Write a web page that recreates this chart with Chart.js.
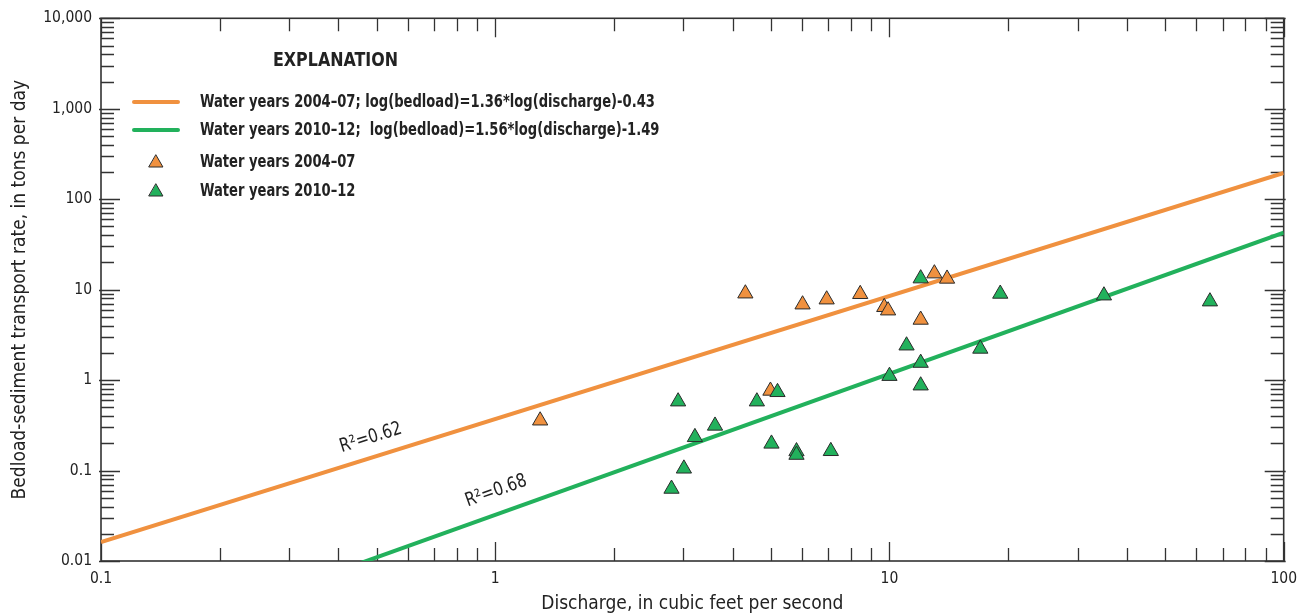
<!DOCTYPE html>
<html>
<head>
<meta charset="utf-8">
<script src="https://cdn.jsdelivr.net/npm/chart.js@4.4.1/dist/chart.umd.min.js"></script>
<style>
  html, body { margin: 0; padding: 0; background: #ffffff; }
  #wrap { width: 1306px; height: 616px; }
</style>
</head>
<body>
<div id="wrap"><canvas id="bedloadChart" width="1306" height="616"></canvas></div>
<script>
// Bedload-sediment transport rate vs. discharge, two sampling periods
const discharge0407 = [1.30, 4.31, 6.02, 6.93, 8.43, 9.70, 9.92, 12.0, 13.0, 14.0, 4.99];
const bedload0407   = [0.357, 9.06, 6.85, 7.78, 8.93, 6.41, 5.88, 4.64, 15.1, 13.2, 0.762];

const discharge1012 = [12.0, 11.05, 12.0, 10.0, 12.0, 19.1, 35.0, 65.0, 17.0, 5.20,
                       4.61, 2.91, 3.61, 3.21, 5.02, 5.81, 5.81, 7.10, 3.01, 2.80];
const bedload1012   = [13.3, 2.41, 1.55, 1.11, 0.871, 9.0, 8.61, 7.40, 2.22, 0.736,
                       0.580, 0.580, 0.313, 0.234, 0.198, 0.163, 0.149, 0.164, 0.105, 0.0628];

// regression fits: log(bedload) = slope * log(discharge) + intercept
const fitSlope     = [1.36, 1.56];
const fitIntercept = [-0.43, -1.49];
const fitR2        = ['0.62', '0.68'];
const fitRange     = [0.1, 100];

const xTicks = [0.1, 1, 10, 100];
const yTicks = [0.01, 0.1, 1, 10, 100, 1000, 10000];

const ORANGE = '#F0913F';
const GREEN  = '#22B15C';
const AXIS   = '#333333';
const INK    = '#222222';
const FONT   = "'DejaVu Sans Condensed', 'Liberation Sans', sans-serif";

function toPoints(xs, ys) {
    return xs.map((x, i) => ({x: x, y: ys[i]}));
}

function fitLine(k) {
    return fitRange.map(x => ({x: x, y: Math.pow(10, fitSlope[k] * Math.log10(x) + fitIntercept[k])}));
}

// squeeze text horizontally so it reads like a condensed face
function narrowText(ctx, text, x, y, squeeze) {
    ctx.save();
    ctx.translate(x, y);
    ctx.scale(squeeze, 1);
    ctx.fillText(text, 0, 0);
    ctx.restore();
}

// frame on all four sides with inward log ticks
const frameTicks = {
    id: 'frameTicks',
    beforeDatasetsDraw(chart) {
        const {ctx, chartArea: a, scales: {x, y}} = chart;
        ctx.save();
        ctx.strokeStyle = AXIS;
        ctx.lineWidth = 1.3;
        ctx.beginPath();
        for (let e = -1; e <= 2; e++) {
            for (let m = 1; m <= 9; m++) {
                const v = m * Math.pow(10, e);
                if (v < x.min * 0.999 || v > x.max * 1.001) continue;
                const px = Math.round(x.getPixelForValue(v)) + 0.5;
                const len = m === 1 ? 19 : 13;
                ctx.moveTo(px, a.bottom); ctx.lineTo(px, a.bottom - len);
                ctx.moveTo(px, a.top); ctx.lineTo(px, a.top + len);
            }
        }
        for (let e = -2; e <= 4; e++) {
            for (let m = 1; m <= 9; m++) {
                const v = m * Math.pow(10, e);
                if (v < y.min * 0.999 || v > y.max * 1.001) continue;
                const py = Math.round(y.getPixelForValue(v)) + 0.5;
                const len = m === 1 ? 19 : 13;
                const out = m === 1 ? 2 : 0;
                ctx.moveTo(a.left - out, py); ctx.lineTo(a.left + len, py);
                ctx.moveTo(a.right + out, py); ctx.lineTo(a.right - len, py);
            }
        }
        ctx.stroke();
        ctx.lineWidth = 1.6;
        ctx.strokeRect(a.left, a.top, a.right - a.left, a.bottom - a.top);
        ctx.restore();
    }
};

// R-squared labels laid along each fitted line
const fitLabels = {
    id: 'fitLabels',
    afterDatasetsDraw(chart) {
        const {ctx, scales: {x, y}} = chart;
        const spots = [{at: 0.50, lift: 19}, {at: 1.05, lift: 22}];
        ctx.save();
        ctx.fillStyle = INK;
        ctx.font = '19px ' + FONT;
        ctx.textAlign = 'center';
        ctx.textBaseline = 'middle';
        spots.forEach((s, k) => {
            const yv = v => Math.pow(10, fitSlope[k] * Math.log10(v) + fitIntercept[k]);
            const x0 = x.getPixelForValue(s.at), y0 = y.getPixelForValue(yv(s.at));
            const x1 = x.getPixelForValue(s.at * 2), y1 = y.getPixelForValue(yv(s.at * 2));
            const ang = Math.atan2(y1 - y0, x1 - x0);
            ctx.save();
            ctx.translate(x0 + Math.sin(ang) * s.lift, y0 - Math.cos(ang) * s.lift);
            ctx.rotate(ang);
            ctx.scale(0.9, 1);
            ctx.fillText('R\u00b2=' + fitR2[k], 0, 0);
            ctx.restore();
        });
        ctx.restore();
    }
};

// explanation block in the upper left of the plot
const explanation = {
    id: 'explanation',
    afterDraw(chart) {
        const ctx = chart.ctx;
        ctx.save();
        ctx.fillStyle = INK;
        ctx.textBaseline = 'middle';
        ctx.font = 'bold 19px ' + FONT;
        narrowText(ctx, 'EXPLANATION', 273, 61, 0.93);

        ctx.font = 'bold 18px ' + FONT;
        const rows = [
            {kind: 'line', color: ORANGE, y: 102, text: 'Water years 2004\u201307; log(bedload)=' + fitSlope[0] + '*log(discharge)' + fitIntercept[0]},
            {kind: 'line', color: GREEN, y: 130, text: 'Water years 2010\u201312;  log(bedload)=' + fitSlope[1] + '*log(discharge)' + fitIntercept[1]},
            {kind: 'point', color: ORANGE, y: 162, text: 'Water years 2004\u201307'},
            {kind: 'point', color: GREEN, y: 191, text: 'Water years 2010\u201312'}
        ];
        rows.forEach(r => {
            if (r.kind === 'line') {
                ctx.strokeStyle = r.color;
                ctx.lineWidth = 4;
                ctx.lineCap = 'round';
                ctx.beginPath();
                ctx.moveTo(134, r.y); ctx.lineTo(178, r.y);
                ctx.stroke();
            } else {
                ctx.fillStyle = r.color;
                ctx.strokeStyle = '#2b2b2b';
                ctx.lineWidth = 1;
                Chart.helpers.drawPoint(ctx, {pointStyle: 'triangle', radius: 8, rotation: 0, borderWidth: 1}, 156, r.y + 1);
            }
            ctx.fillStyle = INK;
            narrowText(ctx, r.text, 200, r.y, 0.81);
        });
        ctx.restore();
    }
};

const triangleStyle = {
    pointStyle: 'triangle',
    pointRadius: 8.8,
    pointBorderColor: '#2b2b2b',
    pointBorderWidth: 1,
    showLine: false
};

const data = {
    datasets: [
        Object.assign({label: 'Water years 2010\u201312', data: toPoints(discharge1012, bedload1012),
            backgroundColor: GREEN, pointBackgroundColor: GREEN, order: 0}, triangleStyle),
        Object.assign({label: 'Water years 2004\u201307', data: toPoints(discharge0407, bedload0407),
            backgroundColor: ORANGE, pointBackgroundColor: ORANGE, order: 1}, triangleStyle),
        {type: 'line', label: 'Fit 2004\u201307', data: fitLine(0), borderColor: ORANGE,
            borderWidth: 4, pointRadius: 0, order: 2},
        {type: 'line', label: 'Fit 2010\u201312', data: fitLine(1), borderColor: GREEN,
            borderWidth: 4, pointRadius: 0, order: 3}
    ]
};

const config = {
    type: 'scatter',
    data: data,
    options: {
        responsive: false,
        animation: false,
        layout: {padding: {top: 18, right: 22, bottom: 0, left: 0}},
        plugins: {
            legend: {display: false},
            tooltip: {enabled: false}
        },
        scales: {
            x: {
                type: 'logarithmic',
                min: 0.1,
                max: 100,
                afterBuildTicks: s => { s.ticks = xTicks.map(v => ({value: v})); },
                afterFit: s => { s.height = 55; },
                grid: {display: false, drawTicks: false},
                border: {display: false},
                ticks: {
                    autoSkip: false, maxRotation: 0, padding: 9,
                    color: INK, font: {family: FONT, size: 15.5},
                    callback: v => String(v)
                },
                title: {
                    display: true, text: 'Discharge, in cubic feet per second',
                    color: INK, font: {family: FONT, size: 19}, padding: {top: 0, bottom: 1}
                }
            },
            y: {
                type: 'logarithmic',
                min: 0.01,
                max: 10000,
                afterBuildTicks: s => { s.ticks = yTicks.map(v => ({value: v})); },
                afterFit: s => { s.width = 101; },
                grid: {display: false, drawTicks: false},
                border: {display: false},
                ticks: {
                    autoSkip: false, padding: 9,
                    color: INK, font: {family: FONT, size: 15.5},
                    callback: v => Number(v).toLocaleString('en-US')
                },
                title: {
                    display: true, text: 'Bedload-sediment transport rate, in tons per day',
                    color: INK, font: {family: FONT, size: 19}, padding: {top: 9, bottom: 0}
                }
            }
        }
    },
    plugins: [frameTicks, fitLabels, explanation]
};

const bedloadChart = new Chart(document.getElementById('bedloadChart'), config);
</script>
</body>
</html>
